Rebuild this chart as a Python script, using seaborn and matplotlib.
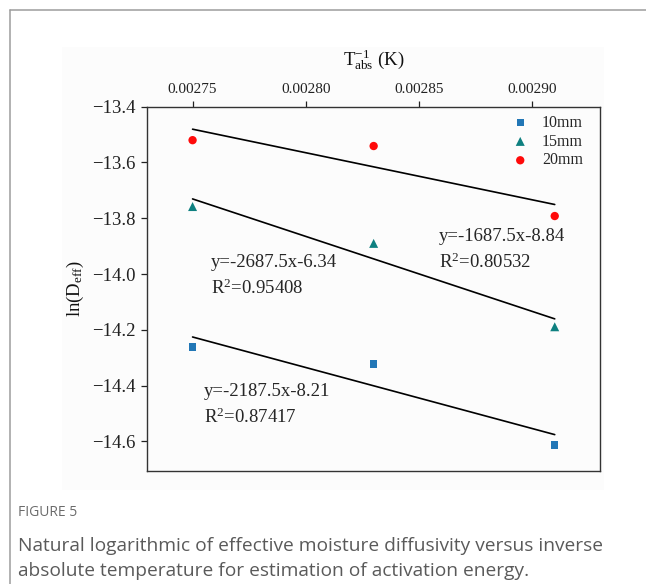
import numpy as np
import pandas as pd
import matplotlib
matplotlib.use("Agg")
import matplotlib.pyplot as plt
import seaborn as sns
from matplotlib.patches import Rectangle
from matplotlib.lines import Line2D

# ---------------- data ----------------
inv_temp = [0.00275, 0.00283, 0.00291]
ln_d_10mm = [-14.262, -14.323, -14.613]
ln_d_15mm = [-13.758, -13.890, -14.189]
ln_d_20mm = [-13.520, -13.541, -13.792]
series = ["10mm", "15mm", "20mm"]
slopes = [-2187.5, -2687.5, -1687.5]
intercepts = [-8.21, -6.34, -8.84]
r2_values = ["0.87417", "0.95408", "0.80532"]
fit_range = [0.00275, 0.00291]
x_ticks = [0.00275, 0.00280, 0.00285, 0.00290]
y_ticks = [-13.4, -13.6, -13.8, -14.0, -14.2, -14.4, -14.6]

# ---------------- style ----------------
sns.set_theme(style="white")
plt.rcParams["font.family"] = ["Liberation Serif", "DejaVu Serif"]
plt.rcParams["mathtext.fontset"] = "custom"
plt.rcParams["mathtext.rm"] = "Liberation Serif"
plt.rcParams["mathtext.it"] = "Liberation Serif:italic"
plt.rcParams["mathtext.bf"] = "Liberation Serif:bold"

colors = {"10mm": "#2277b6", "15mm": "#0e8080", "20mm": "#ff0a0a"}
markers = {"10mm": "s", "15mm": "^", "20mm": "o"}
sizes_pt = {"10mm": 28, "15mm": 42, "20mm": 36}

W, H = 646, 584
fig = plt.figure(figsize=(W / 100, H / 100), dpi=100)
fig.patch.set_facecolor("white")

# very light background of the embedded chart image
fig.add_artist(Rectangle((62 / W, 1 - 490 / H), (604 - 62) / W, (490 - 47) / H,
                         transform=fig.transFigure, facecolor="#fcfcfc",
                         edgecolor="none", zorder=0))
# outer panel border
fig.add_artist(Line2D([9.5 / W, 1.0], [1 - 9.5 / H, 1 - 9.5 / H],
                      transform=fig.transFigure, color="#9c9c9c", lw=1.1))
fig.add_artist(Line2D([9.5 / W, 9.5 / W], [0, 1 - 9.5 / H],
                      transform=fig.transFigure, color="#9c9c9c", lw=1.1))

ax_l, ax_r, ax_t, ax_b = 147.3, 600.0, 106.7, 470.7
ax = fig.add_axes([ax_l / W, 1 - ax_b / H, (ax_r - ax_l) / W, (ax_b - ax_t) / H])
ax.set_facecolor("#fcfcfc")

df = pd.DataFrame({
    "x": inv_temp * 3,
    "y": ln_d_10mm + ln_d_15mm + ln_d_20mm,
    "series": [s for s in series for _ in inv_temp],
})

for s in series:
    sub = df[df["series"] == s]
    sns.scatterplot(data=sub, x="x", y="y", ax=ax, color=colors[s],
                    marker=markers[s], s=sizes_pt[s], edgecolor="none",
                    label=s, zorder=3)

# fitted lines from the printed regression equations
for s, a, b in zip(series, slopes, intercepts):
    fx = np.array(fit_range)
    fy = a * fx + b
    sns.lineplot(x=fx, y=fy, ax=ax, color="black", lw=1.2, legend=False, zorder=2)

ax.set_xlim(0.00273, 0.00293)
ax.set_ylim(-14.705, -13.4)

ax.xaxis.tick_top()
ax.xaxis.set_label_position("top")
ax.set_xticks(x_ticks)
ax.set_xticklabels([f"{v:.5f}" for v in x_ticks], fontsize=11)
ax.set_yticks(y_ticks)
ax.set_yticklabels([f"{v:.1f}".replace("-", "\u2212") for v in y_ticks], fontsize=13.5)
ax.tick_params(axis="x", which="both", top=True, bottom=False, direction="out",
               length=4.5, width=0.9, pad=3, colors="#222222")
ax.tick_params(axis="y", which="both", left=True, right=False, direction="out",
               length=4.5, width=0.9, pad=4, colors="#222222")

ax.set_xlabel(r"$\mathrm{T}^{-1}_{\mathrm{abs}}$ (K)", fontsize=13.5, labelpad=13, color="#111111")
ax.set_ylabel(r"ln(D$_{\mathrm{eff}}$)", fontsize=13.5, labelpad=4, color="#111111")

for sp in ax.spines.values():
    sp.set_visible(True)
    sp.set_color("#333333")
    sp.set_linewidth(1.0)

# equation annotations
ann_fs = 13.5
ax.text(0.002758, -13.960, f"y={slopes[1]}x{intercepts[1]}", fontsize=ann_fs, va="center", ha="left")
ax.text(0.002758, -14.050, "R$^{2}$=" + r2_values[1], fontsize=ann_fs, va="center", ha="left")
ax.text(0.002755, -14.4225, f"y={slopes[0]}x{intercepts[0]}", fontsize=ann_fs, va="center", ha="left")
ax.text(0.002755, -14.512, "R$^{2}$=" + r2_values[0], fontsize=ann_fs, va="center", ha="left")
ax.text(0.002859, -13.867, f"y={slopes[2]}x{intercepts[2]}", fontsize=ann_fs, va="center", ha="left")
ax.text(0.002859, -13.957, "R$^{2}$=" + r2_values[2], fontsize=ann_fs, va="center", ha="left")

handles, labels = ax.get_legend_handles_labels()
ax.legend(handles, labels, loc="upper right", bbox_to_anchor=(0.962, 0.978),
          frameon=False, fontsize=11.5, handlelength=1.0, handletextpad=0.85,
          labelspacing=0.18, borderpad=0.0, borderaxespad=0.0)

# caption
cap_font = ["Open Sans", "DejaVu Sans"]
fig.text(18 / W, 1 - 513 / H, "FIGURE 5", fontsize=10, color="#6b6b6b",
         family=cap_font, va="center", ha="left")
fig.text(18 / W, 1 - 546 / H,
         "Natural logarithmic of effective moisture diffusivity versus inverse",
         fontsize=13.8, color="#5a5a5a", family=cap_font, va="center", ha="left")
fig.text(18 / W, 1 - 571 / H,
         "absolute temperature for estimation of activation energy.",
         fontsize=13.8, color="#5a5a5a", family=cap_font, va="center", ha="left")

fig.savefig("out.png", dpi=100, facecolor="white")
